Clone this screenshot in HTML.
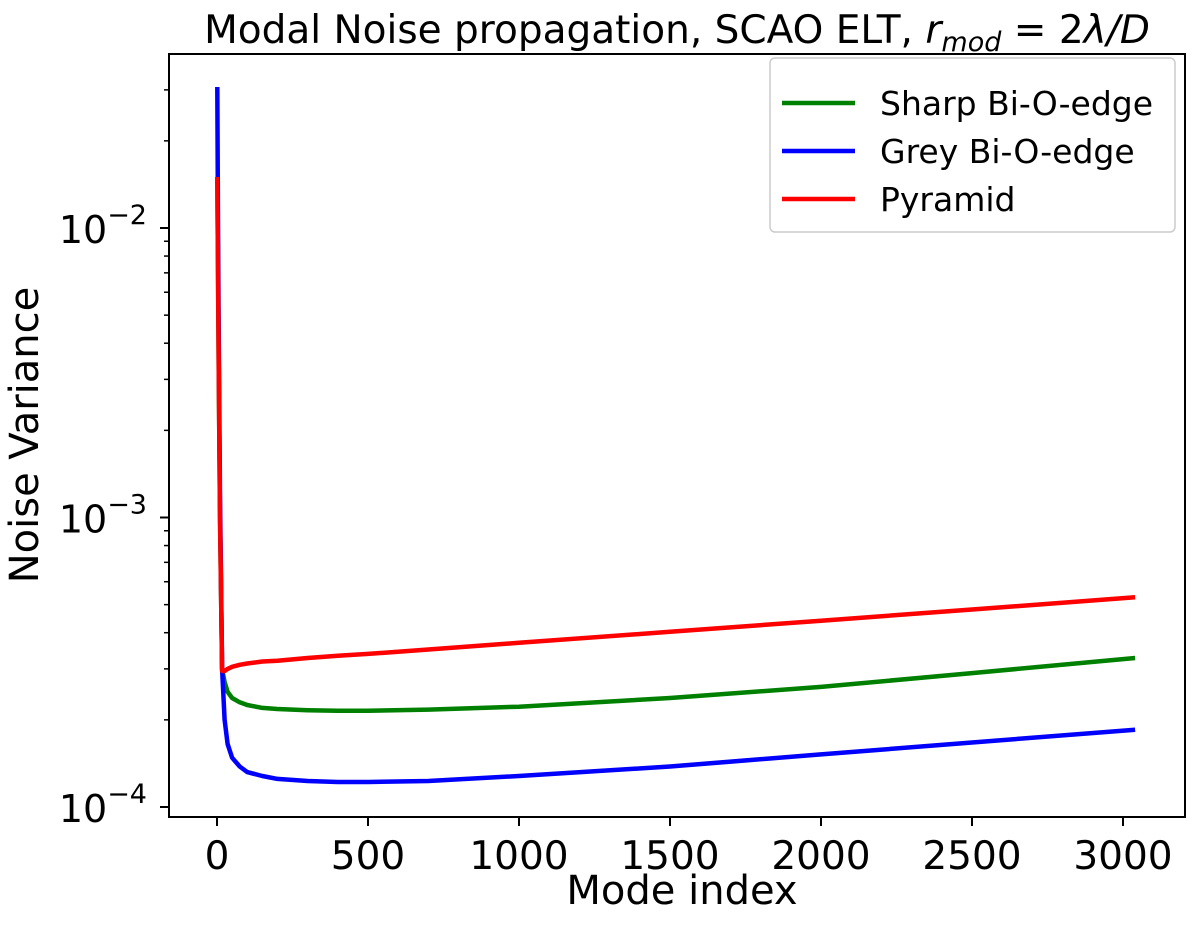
<!DOCTYPE html>
<html><head><meta charset="utf-8"><style>
body{margin:0;background:#fff;}
svg text{font-family:"DejaVu Sans","Liberation Sans",sans-serif;fill:#000;}
</style></head><body>
<svg id="chart" width="1200" height="925" xmlns="http://www.w3.org/2000/svg">
<g id="plot"></g>
</svg>
<script>
const modeIdx=[1,3,6,10,17,25,35,50,75,100,150,200,300,400,500,700,1000,1500,2000,2500,3040];
const sharpVals=[1.5e-2,8e-3,3e-3,1e-3,3.0e-4,2.7e-4,2.5e-4,2.38e-4,2.3e-4,2.25e-4,2.2e-4,2.18e-4,2.16e-4,2.15e-4,2.15e-4,2.17e-4,2.22e-4,2.38e-4,2.6e-4,2.9e-4,3.27e-4];
const greyVals=[3.07e-2,1.2e-2,4e-3,1.2e-3,3.0e-4,2.0e-4,1.65e-4,1.48e-4,1.38e-4,1.32e-4,1.28e-4,1.25e-4,1.23e-4,1.22e-4,1.22e-4,1.23e-4,1.28e-4,1.38e-4,1.52e-4,1.67e-4,1.85e-4];
const pyrVals=[1.5e-2,8e-3,3e-3,1e-3,2.95e-4,2.95e-4,3.0e-4,3.05e-4,3.1e-4,3.13e-4,3.18e-4,3.2e-4,3.27e-4,3.33e-4,3.38e-4,3.5e-4,3.69e-4,4.03e-4,4.4e-4,4.81e-4,5.3e-4];
const xTicks=[0,500,1000,1500,2000,2500,3000];
const yTicksExp=[-4,-3,-2];
const L=169,R=1185,T=54,B=817;
function X(v){return 217+v*0.302;}
function Y(v){return 228-(Math.log10(v)+2)*289.5;}
const NS="http://www.w3.org/2000/svg";
const g=document.getElementById('plot');
function mk(t,a,txt){const e=document.createElementNS(NS,t);for(const k in a)e.setAttribute(k,a[k]);if(txt!==undefined)e.textContent=txt;g.appendChild(e);return e;}
const series=[[sharpVals,'#008000','sharp-bi-o-edge-line'],[greyVals,'#0000ff','grey-bi-o-edge-line'],[pyrVals,'#ff0000','pyramid-line']];
for(const s of series){
  const d=modeIdx.map((m,i)=>(i?'L':'M')+X(m).toFixed(1)+' '+Y(s[0][i]).toFixed(1)).join(' ');
  const p=mk('path',{d:d,fill:'none',stroke:s[1],'stroke-width':4.5,'stroke-linejoin':'round'});
  
  
}
const fr=mk('rect',{x:L,y:T,width:R-L,height:B-T,fill:'none',stroke:'#000','stroke-width':2});


for(const t of xTicks){
  mk('line',{x1:X(t),x2:X(t),y1:B,y2:B+9,stroke:'#000','stroke-width':2});
  const tx=mk('text',{x:X(t),y:869,'font-size':39,'text-anchor':'middle'},String(t));
  
  
}
for(const e of yTicksExp){
  const y=Y(Math.pow(10,e));
  mk('line',{x1:L-9,x2:L,y1:y,y2:y,stroke:'#000','stroke-width':2});
  const tx=mk('text',{x:147,y:y+15,'font-size':38,'text-anchor':'end'});
  tx.innerHTML='10<tspan dy="-19" font-size="27">\u2212'+(-e)+'</tspan>';
  
  
}
for(let e=-5;e<=-2;e++)for(let k=2;k<=9;k++){
  const y=Y(k*Math.pow(10,e));
  if(y<T||y>B)continue;
  mk('line',{x1:L-5,x2:L,y1:y,y2:y,stroke:'#000','stroke-width':1.5});
}
const xl=mk('text',{x:682,y:904,'font-size':40,'text-anchor':'middle'},'Mode index');


const yl=mk('text',{x:0,y:0,'font-size':40,'text-anchor':'middle',transform:'translate(38,435) rotate(-90)'},'Noise Variance');


const ti=mk('text',{x:677,y:43,'font-size':39,'text-anchor':'middle'});
ti.innerHTML='Modal Noise propagation, SCAO ELT, <tspan font-style="italic">r</tspan><tspan font-style="italic" font-size="27" dy="8">mod</tspan><tspan dy="-8"> = 2</tspan><tspan font-style="italic">λ/D</tspan>';


const lg=mk('rect',{x:770,y:58,width:405,height:174,rx:5,fill:'#fff',stroke:'#ccc','stroke-width':1.5});


const names=['Sharp Bi-O-edge','Grey Bi-O-edge','Pyramid'];
const cols=['#008000','#0000ff','#ff0000'];
names.forEach((n,i)=>{
  const y=103+i*48;
  const l=mk('line',{x1:782,x2:855,y1:y,y2:y,stroke:cols[i],'stroke-width':4.5});
  
  
  const t=mk('text',{x:880,y:y+12,'font-size':33},n);
  
  
});
</script>
</body></html>
